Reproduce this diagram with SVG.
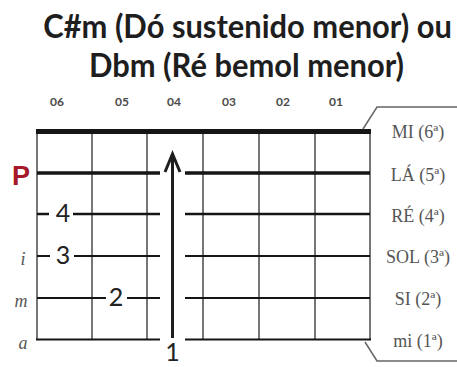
<svg xmlns="http://www.w3.org/2000/svg" width="457" height="367" viewBox="0 0 457 367">
<style>
.title{font-family:Lato,"Open Sans","Liberation Sans",sans-serif;font-weight:bold;font-size:32px;fill:#1e1e1e;text-anchor:middle}
.fret-num{font-family:Lato,"Open Sans","Liberation Sans",sans-serif;font-weight:bold;font-size:12px;fill:#4a4a4a;text-anchor:middle}
.finger{font-family:Lato,"Open Sans","Liberation Sans",sans-serif;font-size:25px;fill:#222;text-anchor:middle}
.hand{font-family:"Liberation Serif",serif;font-style:italic;font-size:18px;fill:#555;text-anchor:middle}
.sname{font-family:"Liberation Serif",serif;font-size:18px;fill:#555;text-anchor:middle}
.fret{stroke:#777;stroke-width:2;fill:none}
.str{stroke:#151515;fill:none}
</style>
<rect width="457" height="367" fill="#fff"/>
<g id="title">
<text class="title" transform="translate(247.5,38) scale(0.965,1)" x="0" y="0">C#m (Dó sustenido menor) ou</text>
<text class="title" transform="translate(246.5,77) scale(0.965,1)" x="0" y="0">Dbm (Ré bemol menor)</text>
</g>
<g id="fret-numbers">
<text class="fret-num" x="57" y="106">06</text>
<text class="fret-num" x="122" y="106">05</text>
<text class="fret-num" x="174" y="106">04</text>
<text class="fret-num" x="229" y="106">03</text>
<text class="fret-num" x="283" y="106">02</text>
<text class="fret-num" x="336" y="106">01</text>
</g>
<g id="frets">
<line class="fret" x1="37" y1="131" x2="37" y2="340"/>
<line class="fret" x1="92" y1="131" x2="92" y2="340"/>
<line class="fret" x1="147" y1="131" x2="147" y2="340"/>
<line class="fret" x1="203" y1="131" x2="203" y2="340"/>
<line class="fret" x1="259" y1="131" x2="259" y2="340"/>
<line class="fret" x1="315" y1="131" x2="315" y2="340"/>
<line class="fret" x1="370" y1="131" x2="370" y2="340"/>
</g>
<g id="strings">
<line class="str" x1="36" y1="131.5" x2="371" y2="131.5" stroke-width="5" stroke="#000"/>
<path class="str" d="M37 173H160M185 173H370" stroke-width="3.5"/>
<path class="str" d="M37 214H49M73 214H160M185 214H370" stroke-width="2.5"/>
<path class="str" d="M37 256H50M74 256H160M185 256H370" stroke-width="2.2" stroke="#222"/>
<path class="str" d="M37 298H106M127 298H160M185 298H370" stroke-width="1.8" stroke="#333"/>
<path class="str" d="M36 339.5H160M185 339.5H371" stroke-width="2" stroke="#666"/>
</g>
<g id="hand-labels">
<text x="21" y="185" font-family="Liberation Sans,Arial,sans-serif" font-weight="bold" font-size="27" fill="#a5192b" text-anchor="middle">P</text>
<text class="hand" x="23" y="265">i</text>
<text class="hand" x="21" y="307">m</text>
<text class="hand" x="23" y="349">a</text>
</g>
<g id="fingers">
<text class="finger" x="63" y="222">4</text>
<text class="finger" x="63" y="264">3</text>
<text class="finger" x="116" y="306">2</text>
<text class="finger" x="172.5" y="361" font-size="23">1</text>
</g>
<g id="connectors">
<line x1="172.5" y1="156" x2="172.5" y2="338" stroke="#1e1e1e" stroke-width="3"/>
<polyline points="165,172 172.5,154 180,172" fill="none" stroke="#1e1e1e" stroke-width="3"/>
</g>
<g id="string-names">
<path d="M363 129L377 107H457M365 342L377 361H457" fill="none" stroke="#666" stroke-width="1.5"/>
<text class="sname" x="418" y="138">MI (6ª)</text>
<text class="sname" x="418" y="181">LÁ (5ª)</text>
<text class="sname" x="418" y="222">RÉ (4ª)</text>
<text class="sname" x="418" y="263">SOL (3ª)</text>
<text class="sname" x="418" y="305">SI (2ª)</text>
<text class="sname" x="418" y="347">mi (1ª)</text>
</g>
</svg>
